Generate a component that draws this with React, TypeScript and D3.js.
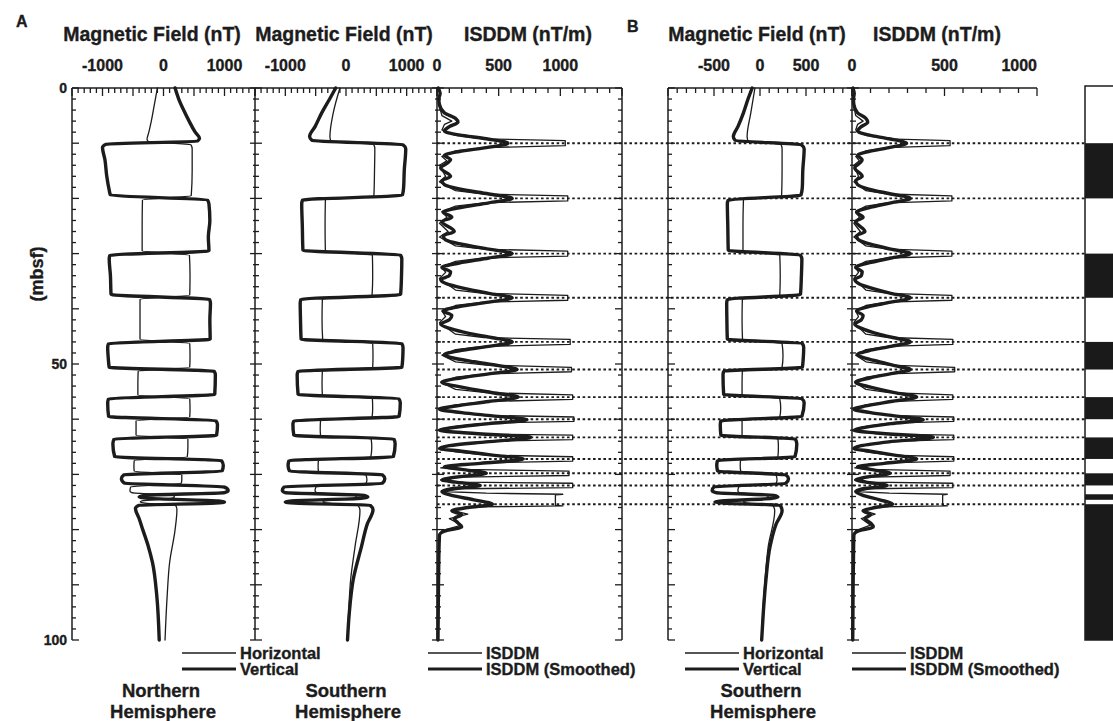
import React from 'react';
import * as d3 from 'd3';

type P = [number, number]; // [depth (mbsf), value]

// ---------- DATA ----------
const reversalDepths = [10, 20, 30, 38, 46, 51, 56, 60, 63.3, 67.2, 69.8, 72, 75.4];
const normalPolarity: [number, number][] = [
  [10, 20], [30, 38], [46, 51], [56, 60], [63.3, 67.2], [69.8, 72], [73.6, 74.6], [75.4, 100],
];
const depthTickLabels = [0, 50, 100];
const fieldTickLabelsA = [-1000, 0, 1000];
const isddmTickLabelsA = [0, 500, 1000];
const fieldTickLabelsB = [-500, 0, 500];
const isddmTickLabelsB = [0, 500, 1000];

// Panel A1 – Northern Hemisphere
const nhVertical: P[] = [
  [0, 190], [2, 250], [4, 330], [6, 420], [8, 520], [9.1, 590], [9.6, 560],
  [10.2, -940], [10.8, -1000], [13, -960], [16, -930], [18.5, -890], [19.4, -870],
  [20.3, 720], [21, 745], [24, 760], [27, 735], [29.5, 745],
  [30.3, -880], [31, -890], [34, -870], [37.4, -860],
  [38.3, 755], [39, 770], [42, 760], [45.5, 765],
  [46.3, -900], [47, -915], [49, -905], [50.6, -890],
  [51.3, 830], [52, 850], [55.5, 840],
  [56.3, -900], [57, -915], [59.5, -900],
  [60.3, 860], [61, 885], [62.9, 870],
  [63.6, -810], [64.5, -830], [66.8, -800],
  [67.5, 950], [68.4, 980], [69.4, 960],
  [70.1, -650], [70.8, -690], [71.6, -640],
  [72.3, 1000], [72.9, 1060], [73.3, 1000],
  [73.8, -300], [74.1, -400], [74.35, -250],
  [74.8, 900], [75.0, 1000], [75.2, 850],
  [75.6, -400], [76.2, -460], [78, -400], [80, -340], [83, -250], [86, -180], [92, -110], [100, -70],
];
const nhHorizontal: P[] = [
  [0, -100], [3, -150], [6, -200], [8, -240], [9.3, -270], [9.7, -250],
  [10.3, 450], [11, 470], [15, 470], [19.5, 455],
  [20.3, -345], [25, -350], [29.5, -350],
  [30.3, 425], [34, 435], [37.5, 430],
  [38.3, -385], [42, -385], [45.5, -385],
  [46.3, 430], [48.5, 435], [50.6, 430],
  [51.3, -415], [53.5, -420], [55.6, -420],
  [56.3, 430], [58, 435], [59.6, 430],
  [60.3, -450], [61.8, -450], [62.9, -450],
  [63.6, 400], [65, 400], [66.8, 390],
  [67.5, -480], [68.5, -485], [69.4, -480],
  [70.1, 300], [71, 300], [71.6, 290],
  [72.3, -540], [73, -550], [73.3, -520],
  [73.8, 150], [74.1, 180], [74.35, 120],
  [74.8, -350], [75, -380], [75.2, -300],
  [75.6, 200], [76.4, 220], [80, 190], [86, 100], [92, 60], [100, 25],
];

// Panel A2 – Southern Hemisphere
const shVertical: P[] = [
  [0, -170], [2, -270], [4.5, -400], [7, -510], [8.8, -600], [9.5, -560],
  [10.3, 940], [11, 985], [15, 960], [18, 950], [19.4, 930],
  [20.3, -715], [21, -730], [25, -720], [29.4, -710],
  [30.3, 900], [31, 920], [34, 915], [37.4, 900],
  [38.3, -745], [39, -755], [42, -750], [45.5, -740],
  [46.3, 920], [47, 940], [49, 935], [50.6, 920],
  [51.3, -790], [52, -805], [55.5, -790],
  [56.3, 870], [57, 895], [59.5, 875],
  [60.3, -860], [61, -875], [62.9, -860],
  [63.6, 790], [64.5, 810], [66.8, 780],
  [67.5, -940], [68.4, -955], [69.4, -930],
  [70.1, 600], [70.8, 640], [71.6, 600],
  [72.3, -1020], [72.9, -1050], [73.3, -1000],
  [73.8, 300], [74.1, 360], [74.35, 250],
  [74.8, -900], [75, -1000], [75.2, -850],
  [75.6, 400], [76.4, 445], [79, 350], [83, 257], [89, 120], [95, 55], [100, 25],
];
const shHorizontal: P[] = [
  [0, -100], [4.5, -210], [8.8, -265], [9.6, -250],
  [10.3, 460], [11, 475], [15, 470], [19.5, 460],
  [20.3, -340], [25, -345], [29.5, -340],
  [30.3, 435], [34, 440], [37.5, 430],
  [38.3, -390], [42, -395], [45.5, -385],
  [46.3, 440], [48.5, 445], [50.6, 440],
  [51.3, -390], [53.5, -395], [55.6, -390],
  [56.3, 435], [58, 440], [59.6, 430],
  [60.3, -420], [61.8, -425], [62.9, -420],
  [63.6, 415], [65, 425], [66.8, 410],
  [67.5, -455], [68.5, -460], [69.4, -455],
  [70.1, 330], [71, 345], [71.6, 330],
  [72.3, -495], [73, -510], [73.3, -480],
  [73.8, 150], [74.1, 170], [74.35, 120],
  [74.8, -350], [75, -380], [75.2, -300],
  [75.6, 200], [76.6, 230], [83, 150], [89, 77], [95, 44], [100, 25],
];

// Panel A3 – ISDDM
const isddmA: P[] = [
  [0, 5], [1, 30], [1.5, 10], [3, 15], [5, 40], [6, 120], [6.6, 60], [7.6, 40], [8.6, 150], [9.2, 380],
  [9.55, 1040], [10.45, 1040], [10.8, 380], [11.4, 150], [12.4, 40], [13.2, 80], [14, 20], [16, 70], [17, 20],
  [18.6, 150], [19.2, 380], [19.55, 1060], [20.45, 1060], [20.8, 380], [21.4, 150], [22.4, 40], [23.4, 80], [24.5, 20], [26, 90], [27, 20],
  [28.6, 150], [29.2, 380], [29.55, 1060], [30.45, 1060], [30.8, 380], [31.4, 150], [32.4, 40], [33.4, 70], [34.5, 20],
  [36.6, 150], [37.2, 380], [37.55, 1060], [38.45, 1060], [38.8, 380], [39.4, 150], [40.4, 40], [41.4, 70], [42.5, 20],
  [44.6, 150], [45.2, 380], [45.55, 1080], [46.45, 1080], [46.8, 380], [47.4, 150], [48.4, 40],
  [49.6, 150], [50.2, 400], [50.6, 1090], [51.4, 1090], [51.8, 400], [52.4, 150], [53.3, 30],
  [54.6, 150], [55.2, 400], [55.6, 1100], [56.4, 1100], [56.8, 400], [57.4, 150], [58.2, 20],
  [58.8, 150], [59.3, 400], [59.6, 1110], [60.4, 1110], [60.7, 400], [61.3, 150], [62, 20],
  [62.3, 150], [62.7, 400], [62.9, 1100], [63.7, 1100], [64, 400], [64.6, 150], [65.3, 20],
  [65.9, 150], [66.5, 400], [66.8, 1100], [67.6, 1100], [67.9, 400], [68.4, 150], [68.8, 30],
  [69.1, 200], [69.4, 1070], [70.2, 1070], [70.5, 200], [71, 30],
  [71.4, 200], [71.6, 1100], [72.4, 1100], [72.6, 200], [73.1, 40],
  [73.4, 400], [73.6, 1020], [73.7, 960], [75.6, 960], [75.7, 1020], [75.9, 300], [76.5, 120], [77.2, 250], [78, 100],
  [79.2, 200], [80.2, 40], [81, 15], [85, 12], [90, 10], [95, 8], [100, 5],
];
const isddmASmoothed: P[] = [
  [0, 10], [1, 25], [2, 15], [3, 20], [4.5, 60], [5.5, 150], [6.2, 170], [7, 100], [7.8, 60], [8.5, 180], [9.2, 400],
  [10, 575], [10.8, 400], [11.5, 180], [12.2, 60], [13, 110], [13.5, 90], [14.5, 30], [16, 110], [16.8, 40], [17.5, 60],
  [18.3, 180], [19.2, 420], [20, 610], [20.8, 420], [21.7, 180], [22.5, 50], [23.4, 120], [24.2, 40], [26, 140], [26.8, 50], [27.5, 70],
  [28.3, 200], [29.2, 420], [30, 610], [30.8, 420], [31.7, 180], [32.5, 40], [33.3, 110], [34, 100], [34.7, 30], [35.5, 80],
  [36.3, 220], [37.2, 420], [38, 610], [38.8, 420], [39.6, 180], [40.4, 50], [41.2, 120], [42, 100], [42.8, 30], [43.6, 110],
  [44.4, 250], [45.2, 440], [46, 610], [46.8, 420], [47.6, 180], [48.3, 60], [49, 150], [49.6, 300], [50.3, 500],
  [51, 650], [51.7, 450], [52.5, 200], [53.3, 40], [54.2, 200], [55.2, 450], [56, 660], [56.8, 420], [57.6, 150], [58.2, 20],
  [58.8, 200], [59.4, 450], [60.1, 730], [60.8, 420], [61.6, 100], [62, 20], [62.5, 250], [63.3, 760], [64.1, 400], [64.8, 100],
  [65.3, 20], [65.8, 200], [66.5, 450], [67.2, 700], [68, 350], [68.6, 60], [69.1, 200], [69.8, 400], [70.5, 150], [71, 40],
  [71.4, 150], [72, 350], [72.6, 120], [73.1, 40], [73.8, 120], [74.6, 300], [75.4, 450], [76, 250], [76.6, 120], [77.3, 200],
  [78, 140], [78.8, 170], [79.5, 200], [80.3, 60], [81, 20], [85, 15], [90, 12], [95, 10], [100, 8],
];

// Panel B1 – Southern Hemisphere (weaker field)
const shBVertical: P[] = [
  [0, -85], [2, -130], [4.5, -180], [7, -240], [8.8, -290], [9.5, -270],
  [10.3, 450], [11, 480], [15, 465], [18, 460], [19.4, 445],
  [20.3, -345], [21, -355], [25, -350], [29.4, -345],
  [30.3, 440], [31, 455], [34, 450], [37.4, 440],
  [38.3, -355], [39, -362], [42, -360], [45.5, -355],
  [46.3, 460], [47, 475], [49, 470], [50.6, 460],
  [51.3, -395], [52, -402], [55.5, -395],
  [56.3, 455], [57, 480], [59.5, 455],
  [60.3, -425], [61, -432], [62.9, -425],
  [63.6, 385], [64.5, 400], [66.8, 380],
  [67.5, -462], [68.4, -470], [69.4, -460],
  [70.1, 280], [70.8, 310], [71.6, 280],
  [72.3, -500], [72.9, -520], [73.3, -480],
  [73.8, 150], [74.1, 195], [74.35, 130],
  [74.8, -420], [75, -490], [75.2, -400],
  [75.6, 220], [76.6, 240], [79, 175], [83, 110], [89, 65], [95, 36], [100, 18],
];
const shBHorizontal: P[] = [
  [0, -55], [4.5, -100], [8.8, -140], [9.6, -130],
  [10.3, 230], [11, 240], [15, 240], [19.5, 235],
  [20.3, -180], [25, -185], [29.5, -185],
  [30.3, 215], [34, 220], [37.5, 215],
  [38.3, -192], [42, -195], [45.5, -190],
  [46.3, 240], [48.5, 250], [50.6, 240],
  [51.3, -192], [53.5, -195], [55.6, -195],
  [56.3, 215], [58, 225], [59.6, 215],
  [60.3, -195], [61.8, -195], [62.9, -195],
  [63.6, 195], [65, 200], [66.8, 195],
  [67.5, -212], [68.5, -215], [69.4, -210],
  [70.1, 175], [71, 185], [71.6, 175],
  [72.3, -232], [73, -240], [73.3, -225],
  [73.8, 70], [74.1, 90], [74.35, 60],
  [74.8, -160], [75, -180], [75.2, -140],
  [75.6, 140], [76.6, 160], [83, 90], [89, 55], [95, 30], [100, 16],
];

// Panel B2 – ISDDM
const isddmB: P[] = [
  [0, 3], [1, 15], [1.5, 5], [3, 8], [5, 20], [6, 60], [6.6, 30], [7.6, 20], [8.6, 75], [9.2, 190],
  [9.55, 530], [10.45, 530], [10.8, 190], [11.4, 75], [12.4, 20], [13.2, 40], [14, 10], [16, 35], [17, 10],
  [18.6, 75], [19.2, 195], [19.55, 540], [20.45, 540], [20.8, 195], [21.4, 75], [22.4, 20], [23.4, 40], [24.5, 10], [26, 45], [27, 10],
  [28.6, 75], [29.2, 195], [29.55, 540], [30.45, 540], [30.8, 195], [31.4, 75], [32.4, 20], [33.4, 35], [34.5, 10],
  [36.6, 75], [37.2, 195], [37.55, 540], [38.45, 540], [38.8, 195], [39.4, 75], [40.4, 20], [41.4, 35], [42.5, 10],
  [44.6, 75], [45.2, 195], [45.55, 545], [46.45, 545], [46.8, 195], [47.4, 75], [48.4, 20],
  [49.6, 75], [50.2, 200], [50.6, 555], [51.4, 555], [51.8, 200], [52.4, 75], [53.3, 15],
  [54.6, 75], [55.2, 200], [55.6, 545], [56.4, 545], [56.8, 200], [57.4, 75], [58.2, 10],
  [58.8, 75], [59.3, 200], [59.6, 550], [60.4, 550], [60.7, 200], [61.3, 75], [62, 10],
  [62.3, 75], [62.7, 200], [62.9, 550], [63.7, 550], [64, 200], [64.6, 75], [65.3, 10],
  [65.9, 75], [66.5, 200], [66.8, 550], [67.6, 550], [67.9, 200], [68.4, 75], [68.8, 15],
  [69.1, 100], [69.4, 530], [70.2, 530], [70.5, 100], [71, 15],
  [71.4, 100], [71.6, 545], [72.4, 545], [72.6, 100], [73.1, 20],
  [73.4, 200], [73.6, 515], [73.7, 490], [75.6, 490], [75.7, 515], [75.9, 150], [76.5, 60], [77.2, 125], [78, 50],
  [79.2, 100], [80.2, 20], [81, 8], [85, 6], [90, 5], [95, 4], [100, 3],
];
const isddmBSmoothed: P[] = [
  [0, 5], [1, 12], [2, 8], [3, 10], [4.5, 30], [5.5, 75], [6.2, 85], [7, 50], [7.8, 30], [8.5, 90], [9.2, 200],
  [10, 295], [10.8, 200], [11.5, 90], [12.2, 30], [13, 55], [13.5, 45], [14.5, 15], [16, 55], [16.8, 20], [17.5, 30],
  [18.3, 90], [19.2, 210], [20, 315], [20.8, 210], [21.7, 90], [22.5, 25], [23.4, 60], [24.2, 20], [26, 70], [26.8, 25], [27.5, 35],
  [28.3, 100], [29.2, 210], [30, 315], [30.8, 210], [31.7, 90], [32.5, 20], [33.3, 55], [34, 50], [34.7, 15], [35.5, 40],
  [36.3, 110], [37.2, 210], [38, 315], [38.8, 210], [39.6, 90], [40.4, 25], [41.2, 60], [42, 50], [42.8, 15], [43.6, 55],
  [44.4, 125], [45.2, 220], [46, 315], [46.8, 210], [47.6, 90], [48.3, 30], [49, 75], [49.6, 150], [50.3, 230],
  [51, 315], [51.7, 220], [52.5, 100], [53.3, 20], [54.2, 100], [55.2, 230], [56, 350], [56.8, 210], [57.6, 75], [58.2, 10],
  [58.8, 100], [59.4, 230], [60.1, 385], [60.8, 210], [61.6, 50], [62, 10], [62.5, 130], [63.3, 440], [64.1, 200], [64.8, 50],
  [65.3, 10], [65.8, 100], [66.5, 230], [67.2, 350], [68, 175], [68.6, 30], [69.1, 100], [69.8, 205], [70.5, 75], [71, 20],
  [71.4, 75], [72, 190], [72.6, 60], [73.1, 20], [73.8, 60], [74.6, 150], [75.4, 220], [76, 125], [76.6, 60], [77.3, 100],
  [78, 70], [78.8, 100], [79.5, 115], [80.3, 30], [81, 10], [85, 8], [90, 6], [95, 5], [100, 4],
];

// ---------- LAYOUT ----------
const INK = '#1c1c1c';
const FONT = "'Liberation Sans', Arial, Helvetica, sans-serif";
const yScale = d3.scaleLinear().domain([0, 100]).range([88, 640]);

interface Panel {
  id: string;
  x0: number;
  x1: number;
  domain: [number, number];
  labels: number[];
  title: string;
  titleX: number;
  endAnchorLast?: boolean;
}

const panels: Panel[] = [
  { id: 'a1', x0: 72, x1: 255, domain: [-1500, 1500], labels: fieldTickLabelsA, title: 'Magnetic Field (nT)', titleX: 152 },
  { id: 'a2', x0: 255, x1: 437, domain: [-1500, 1500], labels: fieldTickLabelsA, title: 'Magnetic Field (nT)', titleX: 344 },
  { id: 'a3', x0: 437, x1: 622, domain: [0, 1500], labels: isddmTickLabelsA, title: 'ISDDM (nT/m)', titleX: 528 },
  { id: 'b1', x0: 668, x1: 852, domain: [-1000, 1000], labels: fieldTickLabelsB, title: 'Magnetic Field (nT)', titleX: 757 },
  { id: 'b2', x0: 852, x1: 1037, domain: [0, 1000], labels: isddmTickLabelsB, title: 'ISDDM (nT/m)', titleX: 937, endAnchorLast: true },
];

const xScales: Record<string, d3.ScaleLinear<number, number>> = {};
panels.forEach((p) => {
  xScales[p.id] = d3.scaleLinear().domain(p.domain).range([p.x0, p.x1]);
});

const vAxes: { x: number; side: 'right' | 'left' | 'both' }[] = [
  { x: 72, side: 'right' },
  { x: 255, side: 'both' },
  { x: 437, side: 'both' },
  { x: 622, side: 'left' },
  { x: 668, side: 'right' },
  { x: 852, side: 'both' },
];

function pathFor(data: P[], xs: d3.ScaleLinear<number, number>, curve: d3.CurveFactory) {
  return (
    d3
      .line<P>()
      .x((d) => xs(d[1]))
      .y((d) => yScale(d[0]))
      .curve(curve)(data) || ''
  );
}

const curves: { data: P[]; panel: string; thick: boolean; curve: d3.CurveFactory }[] = [
  { data: nhHorizontal, panel: 'a1', thick: false, curve: d3.curveMonotoneY },
  { data: nhVertical, panel: 'a1', thick: true, curve: d3.curveMonotoneY },
  { data: shHorizontal, panel: 'a2', thick: false, curve: d3.curveMonotoneY },
  { data: shVertical, panel: 'a2', thick: true, curve: d3.curveMonotoneY },
  { data: isddmA, panel: 'a3', thick: false, curve: d3.curveLinear },
  { data: isddmASmoothed, panel: 'a3', thick: true, curve: d3.curveMonotoneY },
  { data: shBHorizontal, panel: 'b1', thick: false, curve: d3.curveMonotoneY },
  { data: shBVertical, panel: 'b1', thick: true, curve: d3.curveMonotoneY },
  { data: isddmB, panel: 'b2', thick: false, curve: d3.curveLinear },
  { data: isddmBSmoothed, panel: 'b2', thick: true, curve: d3.curveMonotoneY },
];

const TEXT_STROKE = { stroke: INK, strokeWidth: 0.35 };

function Legend({ x, y, labels }: { x: number; y: number; labels: [string, string] }) {
  return (
    <g>
      <line x1={x} x2={x + 54} y1={y} y2={y} stroke={INK} strokeWidth={1.4} />
      <line x1={x} x2={x + 54} y1={y + 16} y2={y + 16} stroke={INK} strokeWidth={3} />
      <text x={x + 58} y={y + 5.5} fontSize={16.5} {...TEXT_STROKE}>{labels[0]}</text>
      <text x={x + 58} y={y + 21.5} fontSize={16.5} {...TEXT_STROKE}>{labels[1]}</text>
    </g>
  );
}

function HemiLabel({ x, y, name }: { x: number; y: number; name: string }) {
  return (
    <g textAnchor="middle" fontSize={18.5} {...TEXT_STROKE}>
      <text x={x} y={y}>{name}</text>
      <text x={x + 2} y={y + 21}>Hemisphere</text>
    </g>
  );
}

export default function App() {
  const y0 = yScale(0);
  const depthMinor = d3.range(0, 101, 2);
  return (
    <svg
      width={1113}
      height={721}
      style={{ position: 'absolute', left: 0, top: 0, background: '#fff' }}
      fontFamily={FONT}
      fontWeight="bold"
      fill={INK}
    >
      <rect x={0} y={0} width={1113} height={721} fill="#fff" />

      {/* Panel letters */}
      <text x={16} y={27} fontSize={16} {...TEXT_STROKE}>A</text>
      <text x={627} y={32} fontSize={16} {...TEXT_STROKE}>B</text>

      {/* Depth axis label and tick labels */}
      <text transform="translate(43,274) rotate(-90)" textAnchor="middle" fontSize={18} {...TEXT_STROKE}>(mbsf)</text>
      {depthTickLabels.map((d) => (
        <text key={d} x={67} y={yScale(d) + 5} textAnchor="end" fontSize={14} {...TEXT_STROKE}>
          {d}
        </text>
      ))}

      {/* Top axes */}
      {panels.map((p) => {
        const xs = xScales[p.id];
        const ticks = d3.range(p.domain[0], p.domain[1] + 1, 100);
        return (
          <g key={p.id}>
            <text x={p.titleX} y={41} textAnchor="middle" fontSize={19.5} {...TEXT_STROKE}>{p.title}</text>
            <line x1={p.x0} x2={p.x1} y1={y0} y2={y0} stroke={INK} strokeWidth={1.5} />
            {ticks.map((t) => (
              <line
                key={t}
                x1={xs(t)}
                x2={xs(t)}
                y1={y0}
                y2={y0 + (t % 500 === 0 ? 8 : 5)}
                stroke={INK}
                strokeWidth={1.3}
              />
            ))}
            {p.labels.map((v, i) => {
              const last = p.endAnchorLast && i === p.labels.length - 1;
              return (
                <text key={v} x={xs(v)} y={71} textAnchor={last ? 'end' : 'middle'} fontSize={16} {...TEXT_STROKE}>
                  {v}
                </text>
              );
            })}
          </g>
        );
      })}

      {/* Vertical axes */}
      {vAxes.map((a) => (
        <g key={a.x}>
          <line x1={a.x} x2={a.x} y1={y0} y2={yScale(100)} stroke={INK} strokeWidth={1.5} />
          {depthMinor.map((d) => {
            const major = d % 10 === 0;
            const len = major ? 7 : 4;
            const r = a.side === 'right' || a.side === 'both' ? len : 0;
            const l = a.side === 'left' ? len : a.side === 'both' ? (major ? 5 : 2) : 0;
            return (
              <line
                key={d}
                x1={a.x - l}
                x2={a.x + r}
                y1={yScale(d)}
                y2={yScale(d)}
                stroke={INK}
                strokeWidth={1.3}
              />
            );
          })}
        </g>
      ))}

      {/* Data curves */}
      {curves.map((c, i) => (
        <path
          key={i}
          d={pathFor(c.data, xScales[c.panel], c.curve)}
          fill="none"
          stroke={INK}
          strokeWidth={c.thick ? 3.4 : 1.3}
          strokeLinejoin="round"
          strokeLinecap="round"
        />
      ))}

      {/* Reversal dotted lines */}
      {reversalDepths.map((d) => (
        <line
          key={d}
          x1={437}
          x2={1085}
          y1={yScale(d)}
          y2={yScale(d)}
          stroke={INK}
          strokeWidth={1.9}
          strokeDasharray="2.6 2.6"
        />
      ))}

      {/* Polarity column */}
      <rect x={1085} y={yScale(0) - 2} width={60} height={yScale(100) - yScale(0) + 2} fill="#fff" stroke={INK} strokeWidth={1.5} />
      {normalPolarity.map(([a, b]) => (
        <rect key={a} x={1085} y={yScale(a)} width={60} height={yScale(b) - yScale(a)} fill="#1a1a1a" />
      ))}

      {/* Legends */}
      <Legend x={182} y={653} labels={['Horizontal', 'Vertical']} />
      <Legend x={428} y={653} labels={['ISDDM', 'ISDDM (Smoothed)']} />
      <Legend x={685} y={653} labels={['Horizontal', 'Vertical']} />
      <Legend x={852} y={653} labels={['ISDDM', 'ISDDM (Smoothed)']} />

      <HemiLabel x={161} y={697} name="Northern" />
      <HemiLabel x={346} y={697} name="Southern" />
      <HemiLabel x={761} y={697} name="Southern" />
    </svg>
  );
}
